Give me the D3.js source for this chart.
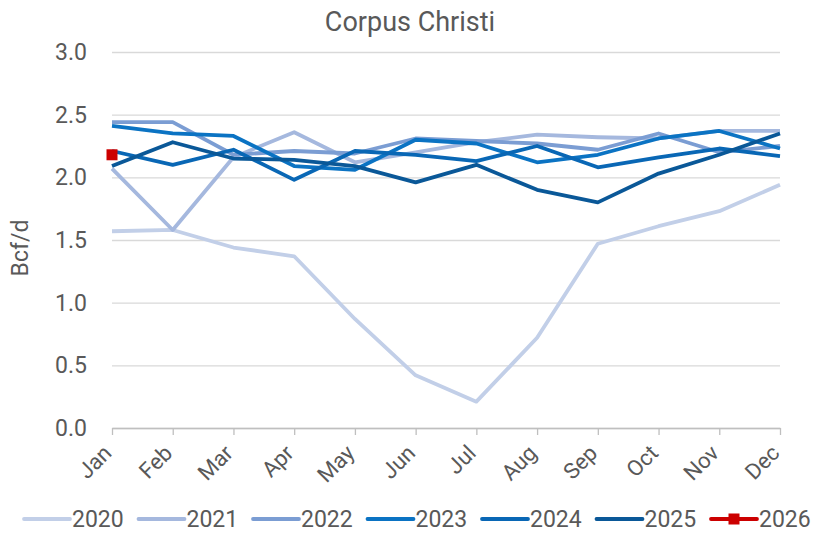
<!DOCTYPE html>
<html>
<head>
<meta charset="utf-8">
<script src="https://cdn.jsdelivr.net/npm/d3@7"></script>
<style>
  body { margin: 0; background: #fff; }
  text { font-family: Roboto, "Liberation Sans", sans-serif; fill: #595959; }
</style>
</head>
<body>
<div id="chart"></div>
<script>
// data
var months = ["Jan", "Feb", "Mar", "Apr", "May", "Jun", "Jul", "Aug", "Sep", "Oct", "Nov", "Dec"];
var years = ["2020", "2021", "2022", "2023", "2024", "2025", "2026"];
var y2020 = [1.57, 1.58, 1.44, 1.37, 0.87, 0.42, 0.21, 0.72, 1.47, 1.61, 1.73, 1.94];
var y2021 = [2.07, 1.58, 2.16, 2.36, 2.12, 2.20, 2.28, 2.34, 2.32, 2.31, 2.37, 2.37];
var y2022 = [2.44, 2.44, 2.18, 2.21, 2.19, 2.31, 2.29, 2.27, 2.22, 2.35, 2.20, 2.25];
var y2023 = [2.41, 2.35, 2.33, 2.09, 2.06, 2.30, 2.27, 2.12, 2.18, 2.31, 2.37, 2.23];
var y2024 = [2.21, 2.10, 2.22, 1.98, 2.21, 2.18, 2.13, 2.25, 2.08, 2.16, 2.23, 2.17];
var y2025 = [2.09, 2.28, 2.15, 2.14, 2.09, 1.96, 2.10, 1.90, 1.80, 2.03, 2.18, 2.35];
var y2026 = [2.18];
var yTicks = [0, 0.5, 1.0, 1.5, 2.0, 2.5, 3.0];
var colors = ["#c2cfe8", "#a5b8de", "#7b9dd3", "#0b73c3", "#0967b5", "#0a5898", "#cc0000"];

var series = [y2020, y2021, y2022, y2023, y2024, y2025, y2026].map(function (v, i) {
    return { name: years[i], values: v, color: colors[i] };
});

var width = 816, height = 534;
var margin = { top: 52, right: 36, bottom: 106, left: 112 };

var svg = d3.select("#chart").append("svg")
    .attr("width", width)
    .attr("height", height);

var x = d3.scalePoint()
    .domain(months)
    .range([margin.left, width - margin.right]);

var y = d3.scaleLinear()
    .domain([0, 3])
    .range([height - margin.bottom, margin.top]);

// title
svg.append("text")
    .attr("x", 410)
    .attr("y", 31)
    .attr("text-anchor", "middle")
    .style("font-size", "27px")
    .text("Corpus Christi");

// gridlines + y labels
var yAxis = svg.append("g")
    .attr("transform", "translate(" + margin.left + ",0)")
    .call(d3.axisLeft(y).tickValues(yTicks).tickFormat(d3.format(".1f"))
        .tickSize(-(width - margin.left - margin.right)).tickPadding(25));
yAxis.select(".domain").remove();
yAxis.selectAll("line").attr("stroke", "#d9d9d9").attr("stroke-width", 1.3);
yAxis.selectAll("text").style("font-size", "23px").attr("fill", "#595959");

// x axis
var xAxis = svg.append("g")
    .attr("transform", "translate(0," + y(0) + ")")
    .call(d3.axisBottom(x).tickSize(7).tickSizeOuter(0));
xAxis.select(".domain").attr("stroke", "#bfbfbf").attr("stroke-width", 1.3);
xAxis.selectAll("line").attr("stroke", "#bfbfbf").attr("stroke-width", 1.3);
xAxis.selectAll("text")
    .style("font-size", "22px")
    .attr("fill", "#595959")
    .attr("text-anchor", "end")
    .attr("x", 0)
    .attr("y", 0)
    .attr("dy", "0.35em")
    .attr("transform", "translate(-5,21) rotate(-45)");

// y title
svg.append("text")
    .attr("transform", "translate(28,248) rotate(-90)")
    .attr("text-anchor", "middle")
    .style("font-size", "23px")
    .text("Bcf/d");

var line = d3.line()
    .x(function (d, i) { return x(months[i]); })
    .y(function (d) { return y(d); });

svg.append("g").selectAll("path")
    .data(series.filter(function (s) { return s.values.length > 1; }))
    .enter().append("path")
    .attr("fill", "none")
    .attr("stroke", function (d) { return d.color; })
    .attr("stroke-width", 3.8)
    .attr("stroke-linejoin", "round")
    .attr("d", function (d) { return line(d.values); });

// 2026 marker
svg.append("g").selectAll("rect")
    .data(y2026)
    .enter().append("rect")
    .attr("x", function (d, i) { return x(months[i]) - 5.5; })
    .attr("y", function (d) { return y(d) - 5.5; })
    .attr("width", 11)
    .attr("height", 11)
    .attr("fill", "#cc0000");

// legend
var legend = svg.append("g").attr("transform", "translate(24,519)");
var item = legend.selectAll("g")
    .data(series)
    .enter().append("g")
    .attr("transform", function (d, i) { return "translate(" + (i * 114.5) + ",0)"; });
item.append("line")
    .attr("x1", 0).attr("x2", 46)
    .attr("stroke", function (d) { return d.color; })
    .attr("stroke-width", 3.8)
    .attr("stroke-linecap", "round");
item.filter(function (d) { return d.name === "2026"; })
    .append("rect")
    .attr("x", 17.5).attr("y", -5.5)
    .attr("width", 11).attr("height", 11)
    .attr("fill", "#cc0000");
item.append("text")
    .attr("x", 48)
    .attr("dy", "0.36em")
    .style("font-size", "23px")
    .text(function (d) { return d.name; });
</script>
</body>
</html>
